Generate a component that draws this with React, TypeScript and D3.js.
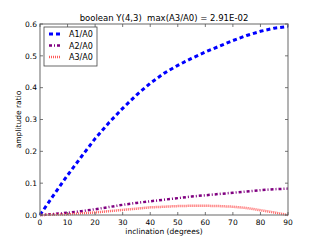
import React from 'react';
import * as d3 from 'd3';

const incl = [0, 5, 10, 15, 20, 25, 30, 35, 40, 45, 50, 55, 60, 65, 70, 75, 80, 85, 90];
const a1 = [0, 0.063, 0.125, 0.183, 0.24, 0.29, 0.335, 0.377, 0.414, 0.445, 0.47, 0.492, 0.512, 0.53, 0.548, 0.564, 0.577, 0.587, 0.592];
const a2 = [0, 0.003, 0.007, 0.012, 0.018, 0.025, 0.032, 0.038, 0.043, 0.048, 0.053, 0.058, 0.062, 0.066, 0.07, 0.074, 0.078, 0.081, 0.083];
const a3 = [0, 0.001, 0.002, 0.005, 0.008, 0.012, 0.016, 0.02, 0.024, 0.026, 0.028, 0.029, 0.029, 0.028, 0.026, 0.022, 0.015, 0.008, 0];
const xTicks = [0, 10, 20, 30, 40, 50, 60, 70, 80, 90];
const yTicks = [0, 0.1, 0.2, 0.3, 0.4, 0.5, 0.6];

const series = [
  { name: 'A1/A0', values: a1, color: '#0000ff', width: 3, dash: '4,3' },
  { name: 'A2/A0', values: a2, color: '#800080', width: 2.5, dash: '3,2,1,2' },
  { name: 'A3/A0', values: a3, color: '#ff5a5a', width: 2.5, dash: '1,1' },
];

export default function App() {
  const left = 40, right = 288, top = 24, bottom = 215;
  const x = d3.scaleLinear().domain([0, 90]).range([left, right]);
  const y = d3.scaleLinear().domain([0, 0.6]).range([bottom, top]);
  const line = d3.line<number>().x((d, i) => x(incl[i])).y(d => y(d));
  const font = 'DejaVu Sans, sans-serif';

  return (
    <svg width={320} height={240} style={{ position: 'absolute', left: 0, top: 0, background: '#fff' }}>
      <text x={164} y={21} textAnchor="middle" fontFamily={font} fontSize={8.5} style={{ whiteSpace: 'pre' }}>
        {'boolean Y(4,3)  max(A3/A0) = 2.91E-02'}
      </text>
      {series.map(s => (
        <path key={s.name} d={line(s.values) || ''} fill="none" stroke={s.color}
          strokeWidth={s.width} strokeDasharray={s.dash} />
      ))}
      <rect x={left} y={top} width={right - left} height={bottom - top} fill="none" stroke="#808080" strokeWidth={1.2} />
      {xTicks.map(t => (
        <g key={'x' + t}>
          <line x1={x(t)} x2={x(t)} y1={bottom} y2={bottom - 3} stroke="#555" strokeWidth={0.8} />
          <line x1={x(t)} x2={x(t)} y1={top} y2={top + 3} stroke="#555" strokeWidth={0.8} />
          <text x={x(t)} y={bottom + 10} textAnchor="middle" fontFamily={font} fontSize={7.5}>{t}</text>
        </g>
      ))}
      {yTicks.map(t => (
        <g key={'y' + t}>
          <line x1={left} x2={left + 3} y1={y(t)} y2={y(t)} stroke="#555" strokeWidth={0.8} />
          <line x1={right} x2={right - 3} y1={y(t)} y2={y(t)} stroke="#555" strokeWidth={0.8} />
          <text x={left - 3} y={y(t) + 2.7} textAnchor="end" fontFamily={font} fontSize={7.5}>{t.toFixed(1)}</text>
        </g>
      ))}
      <text x={164} y={234} textAnchor="middle" fontFamily={font} fontSize={7.5}>inclination (degrees)</text>
      <text transform={`translate(21,${(top + bottom) / 2}) rotate(-90)`} textAnchor="middle" fontFamily={font} fontSize={7.5}>amplitude ratio</text>
      <rect x={44} y={27} width={53} height={39} fill="#fff" stroke="#444" strokeWidth={0.8} />
      {series.map((s, i) => (
        <g key={'l' + s.name}>
          <line x1={49} x2={61} y1={34 + i * 11.5} y2={34 + i * 11.5} stroke={s.color}
            strokeWidth={s.width} strokeDasharray={s.dash} />
          <text x={69} y={37 + i * 11.5} fontFamily={font} fontSize={8}>{s.name}</text>
        </g>
      ))}
    </svg>
  );
}
